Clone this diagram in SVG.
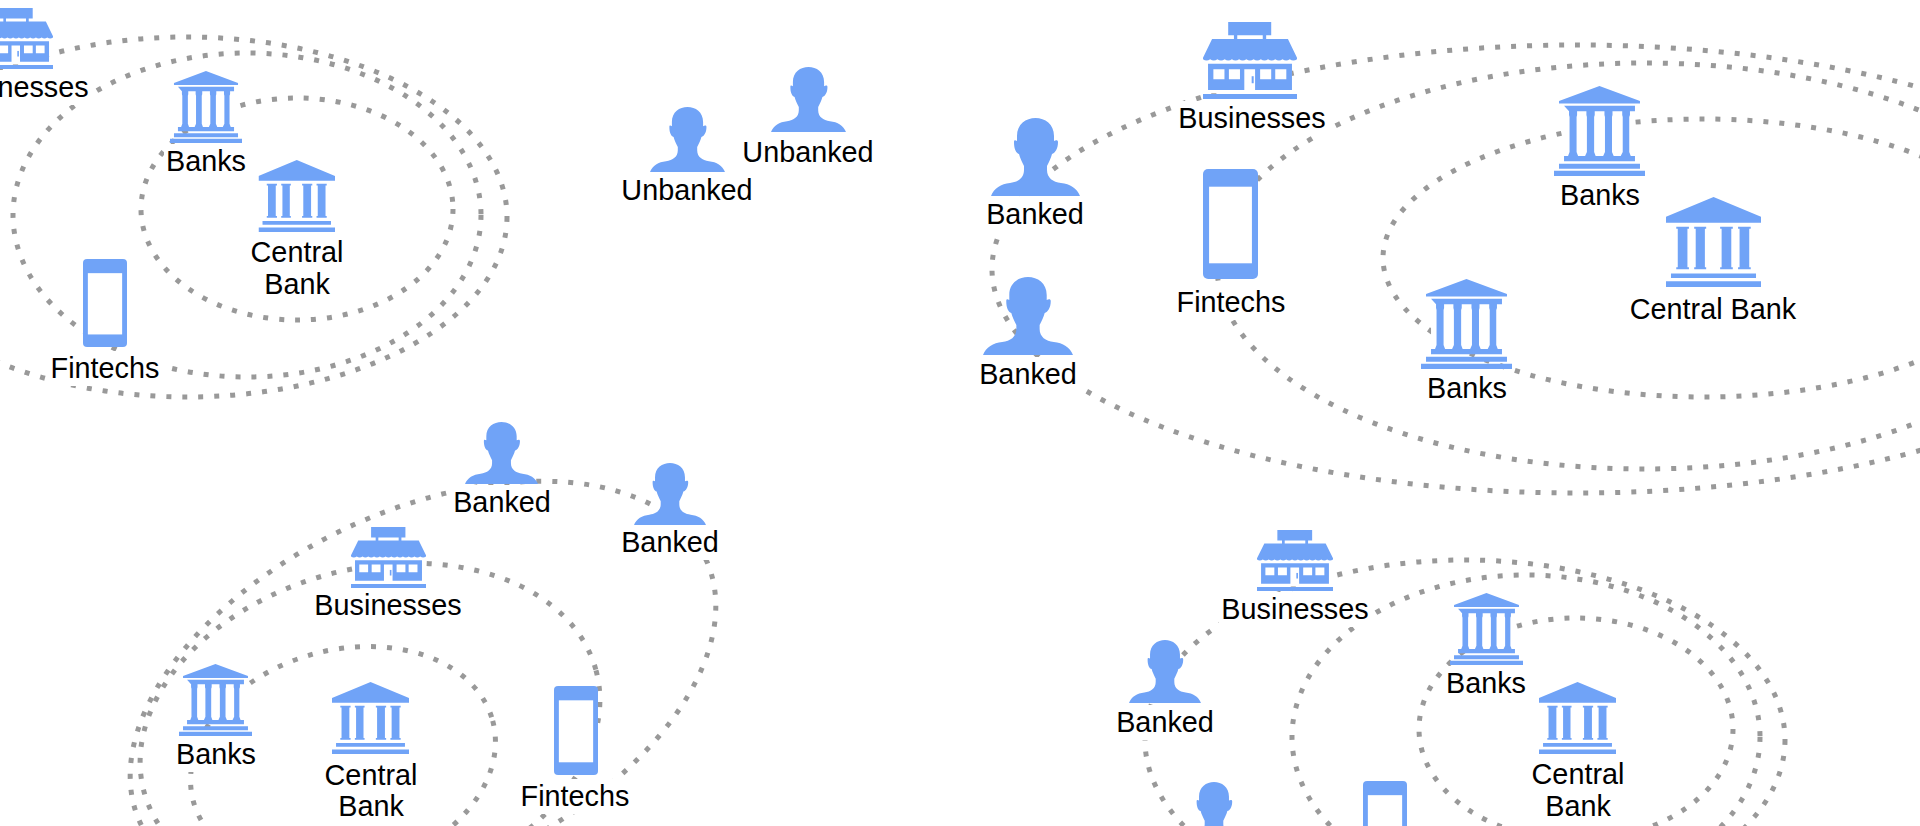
<svg xmlns="http://www.w3.org/2000/svg" width="1920" height="826" viewBox="0 0 1920 826">
<style>
.c{fill:none;stroke:#999;stroke-width:5;stroke-dasharray:5 11}
.l{font-family:"Liberation Sans",Arial,sans-serif;font-size:28.8px;fill:#000;text-anchor:middle}
.m{fill:#fff}
.i{fill:#70a3f7}
</style>
<defs>
<symbol id="person" viewBox="0 0 89 78" preserveAspectRatio="none"><path class="i" d="M0 78C3 70 10 66 19 65C27 64 33 60 33 52L33 48C31 44 29 40 28 36C25 35 23 31 23 24C23 22 24 22 26 23L26 18C26 6 35 0 44.5 0C54 0 63 6 63 18L63 23C65 22 67 22 67 24C67 31 64 35 61 36C60 40 58 44 56 48L56 52C56 60 62 64 70 65C79 66 86 70 89 78Z"/></symbol>
<symbol id="bank" viewBox="0 0 90.7 90" preserveAspectRatio="none"><rect class="m" x="10" y="19" width="70.7" height="56"/><path class="i" d="M45.3 0L5 15V17.5H85.7V15ZM10 19.7H80.7V25.3H75.7V29L75 31V66L76.500 70H80.700V75.300H10V70H14L15.500 66V31L15 29V25.300ZM23 25.300V29L22.500 31V66L24 70H31L32.800 66V31L32.300 29V25.300ZM40.600 25.300V29L40 31V66L41.500 70H49L50.800 66V31L50.300 29V25.300ZM58.300 25.300V29L57.800 31V66L59.500 70H66.500L68.500 66V31L68 29V25.300ZM5 77.700H85.700V82.700H5ZM0 84.700H90.700V90H0Z"/></symbol>
<symbol id="central" viewBox="0 0 95.300 90.700" preserveAspectRatio="none"><rect class="m" x="5" y="26" width="85" height="52"/><path class="i" d="M47.700 0L0 20V26H95.300V20ZM5 77H90.300V81.700H5ZM0 85H95.300V90.700H0ZM10.300 30H23V32H21.500V70.700H23V72.700H10.300V70.700H11.800V32H10.300ZM28.300 30H40.300V32H39V70.700H40.300V72.700H28.300V70.700H29.800V32H28.300ZM54.300 30H67V32H65.500V70.700H67V72.700H54.300V70.700H55.800V32H54.300ZM72.300 30H85V32H83.500V70.700H85V72.700H72.300V70.700H73.800V32H72.300Z"/></symbol>
<symbol id="shop" viewBox="0 0 93.300 76.700" preserveAspectRatio="none"><rect class="m" x="5" y="38" width="83.300" height="33"/><path class="i" d="M25 0H67.700V13.300H62.700V17H59.300V13.300H34V17H30.700V13.300H25ZM9 17H84.300L93.300 35.500L93.300 37q-3.590 2.500-7.180 0q-3.590 2.500-7.180 0q-3.590 2.500-7.180 0q-3.590 2.500-7.180 0q-3.590 2.500-7.180 0q-3.590 2.500-7.180 0q-3.590 2.500-7.180 0q-3.590 2.500-7.180 0q-3.590 2.500-7.180 0q-3.590 2.500-7.180 0q-3.590 2.500-7.180 0q-3.590 2.500-7.180 0q-3.590 2.500-7.180 0L0 35.500ZM0 71.700H93.300V76.700H0ZM5 41.700H88.300V67.700H51.700V47H41V67.700H5ZM10.300 47V57H21.300V47ZM25.700 47V57H36.700V47ZM56.700 47V57H67.700V47ZM71.700 47V57H82.700V47Z" fill-rule="evenodd"/><rect class="i" x="48.300" y="54" width="2" height="7"/></symbol>
<symbol id="phone" viewBox="0 0 54.300 110" preserveAspectRatio="none"><rect class="i" width="54.300" height="110" rx="5"/><rect class="m" x="6" y="17.700" width="42.300" height="76.600"/></symbol>
</defs>
<rect width="1920" height="826" fill="#fff"/>
<g id="connectors">
<ellipse class="c" cx="187" cy="217" rx="320" ry="180"/>
<ellipse class="c" cx="247" cy="215" rx="234" ry="162"/>
<ellipse class="c" cx="297" cy="209" rx="156" ry="111"/>
<ellipse class="c" cx="1577" cy="269" rx="585" ry="224"/>
<ellipse class="c" cx="1645" cy="266" rx="428" ry="203"/>
<ellipse class="c" cx="1703" cy="258" rx="320" ry="139"/>
<ellipse class="c" cx="423" cy="691" rx="312" ry="180" transform="rotate(-25 423 691)"/>
<ellipse class="c" cx="370" cy="731" rx="234" ry="162" transform="rotate(-15 370 731)"/>
<ellipse class="c" cx="343" cy="761" rx="155" ry="111" transform="rotate(-15 343 761)"/>
<ellipse class="c" cx="1465" cy="740" rx="320" ry="180"/>
<ellipse class="c" cx="1526" cy="737" rx="234" ry="162"/>
<ellipse class="c" cx="1576" cy="729" rx="157" ry="111"/>
</g>
<g id="p1-business"><use href="#shop" x="-21" y="8" width="74" height="61"/><rect class="m" x="-61" y="70" width="152" height="35"/><text class="l" x="15" y="97">Businesses</text></g>
<g id="p1-banks"><use href="#bank" x="170" y="71" width="72" height="72"/><rect class="m" x="164" y="144" width="84" height="35"/><text class="l" x="206" y="171">Banks</text></g>
<g id="p1-central"><use href="#central" x="258.500" y="160" width="76.500" height="72"/><rect class="m" x="249" y="235" width="97" height="67"/><text class="l" x="297" y="262">Central</text><text class="l" x="297" y="294">Bank</text></g>
<g id="p1-fintechs"><use href="#phone" x="83" y="259" width="44" height="88"/><rect class="m" x="49" y="351" width="113" height="35"/><text class="l" x="105" y="378">Fintechs</text></g>
<g id="unbanked-1"><use href="#person" x="650" y="107" width="75" height="65"/><text class="l" x="687" y="200">Unbanked</text></g>
<g id="unbanked-2"><use href="#person" x="771" y="67" width="75" height="65"/><text class="l" x="808" y="162">Unbanked</text></g>
<g id="p2-banked-1"><use href="#person" x="991" y="118" width="89" height="78"/><rect class="m" x="984" y="197" width="102" height="35"/><text class="l" x="1035" y="224">Banked</text></g>
<g id="p2-banked-2"><use href="#person" x="983" y="277" width="90" height="78"/><rect class="m" x="977" y="357" width="102" height="35"/><text class="l" x="1028" y="384">Banked</text></g>
<g id="p2-business"><use href="#shop" x="1203" y="22" width="94" height="77"/><rect class="m" x="1176" y="101" width="152" height="35"/><text class="l" x="1252" y="128">Businesses</text></g>
<g id="p2-fintechs"><use href="#phone" x="1203" y="169" width="55" height="110"/><rect class="m" x="1175" y="285" width="113" height="35"/><text class="l" x="1231" y="312">Fintechs</text></g>
<g id="p2-banks-1"><use href="#bank" x="1554" y="86" width="91" height="90"/><rect class="m" x="1558" y="178" width="84" height="35"/><text class="l" x="1600" y="205">Banks</text></g>
<g id="p2-central"><use href="#central" x="1666" y="197" width="95" height="90"/><rect class="m" x="1628" y="292" width="170" height="35"/><text class="l" x="1713" y="319">Central Bank</text></g>
<g id="p2-banks-2"><use href="#bank" x="1421" y="279" width="91" height="90"/><rect class="m" x="1425" y="371" width="84" height="35"/><text class="l" x="1467" y="398">Banks</text></g>
<g id="p3-banked-1"><use href="#person" x="465" y="422" width="73" height="62"/><rect class="m" x="451" y="485" width="102" height="35"/><text class="l" x="502" y="512">Banked</text></g>
<g id="p3-banked-2"><use href="#person" x="634" y="463" width="72" height="62"/><rect class="m" x="619" y="525" width="102" height="35"/><text class="l" x="670" y="552">Banked</text></g>
<g id="p3-business"><use href="#shop" x="351" y="527" width="75" height="61"/><rect class="m" x="312" y="588" width="152" height="35"/><text class="l" x="388" y="615">Businesses</text></g>
<g id="p3-banks"><use href="#bank" x="179" y="664" width="73" height="72"/><rect class="m" x="174" y="737" width="84" height="35"/><text class="l" x="216" y="764">Banks</text></g>
<g id="p3-central"><use href="#central" x="332" y="682" width="77" height="72"/><rect class="m" x="323" y="758" width="97" height="68"/><text class="l" x="371" y="785">Central</text><text class="l" x="371" y="816">Bank</text></g>
<g id="p3-fintechs"><use href="#phone" x="554" y="686" width="44" height="89"/><rect class="m" x="519" y="779" width="113" height="35"/><text class="l" x="575" y="806">Fintechs</text></g>
<g id="p4-business"><use href="#shop" x="1257" y="530" width="76" height="61"/><rect class="m" x="1219" y="592" width="152" height="35"/><text class="l" x="1295" y="619">Businesses</text></g>
<g id="p4-banked-1"><use href="#person" x="1129" y="640" width="72" height="63"/><rect class="m" x="1114" y="705" width="102" height="35"/><text class="l" x="1165" y="732">Banked</text></g>
<g id="p4-banked-2"><use href="#person" x="1178" y="782" width="72" height="63"/></g>
<g id="p4-fintechs"><use href="#phone" x="1363" y="781" width="44" height="88"/></g>
<g id="p4-banks"><use href="#bank" x="1450" y="593" width="73" height="72"/><rect class="m" x="1444" y="666" width="84" height="35"/><text class="l" x="1486" y="693">Banks</text></g>
<g id="p4-central"><use href="#central" x="1539" y="682" width="77" height="72"/><rect class="m" x="1530" y="757" width="97" height="69"/><text class="l" x="1578" y="784">Central</text><text class="l" x="1578" y="816">Bank</text></g>
</svg>
